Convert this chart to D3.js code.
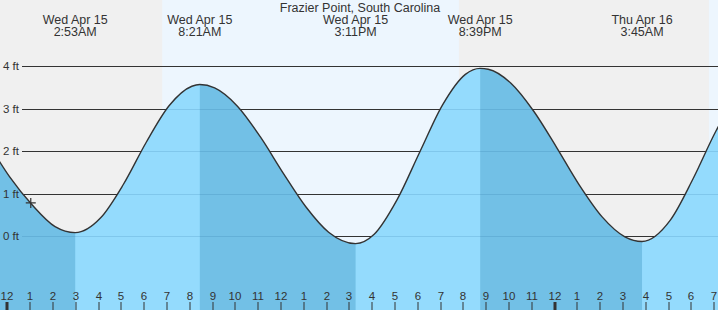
<!DOCTYPE html>
<html>
<head>
<meta charset="utf-8">
<script src="https://cdn.jsdelivr.net/npm/d3@7"></script>
<style>
  html, body { margin: 0; padding: 0; background: #fff; }
  svg { display: block; font-family: "Liberation Sans", Arial, sans-serif; }
</style>
</head>
<body>
<svg id="chart" width="718" height="310"></svg>
<script>
// station
var stationName = "Frazier Point, South Carolina";

// window shown
var viewStart = "2026-04-14 23:35";
var viewEnd = "2026-04-16 07:05";

// hourly heights (ft), starting at viewHourlyStart
var hourlyStart = "2026-04-14 23:00";
var hourlyFeet = [2.25, 1.40, 0.73, 0.22, 0.08, 0.43, 1.22, 2.21, 3.07, 3.53,
                  3.49, 3.06, 2.34, 1.49, 0.69, 0.09, -0.17, 0.04, 0.85, 1.98,
                  3.09, 3.81, 3.93, 3.60, 2.94, 2.09, 1.20, 0.45, -0.02, -0.11,
                  0.38, 1.36, 2.48, 3.37];

// high / low tides
var extremeTimes = ["2026-04-15 02:53", "2026-04-15 08:21", "2026-04-15 15:11",
                    "2026-04-15 20:39", "2026-04-16 03:45"];
var extremeFeet = [0.08, 3.57, -0.18, 3.95, -0.13];
var extremeType = ["low", "high", "low", "high", "low"];

// daylight
var sunrises = ["2026-04-15 06:42", "2026-04-16 06:41"];
var sunsets = ["2026-04-15 19:43"];

// current time marker
var nowTime = "2026-04-15 00:56";
var nowFeet = 0.78;

var yTicks = [0, 1, 2, 3, 4];

var parse = d3.timeParse("%Y-%m-%d %H:%M");
var width = 718, height = 310;

var x = d3.scaleTime()
    .domain([parse(viewStart), parse(viewEnd)])
    .range([0, width]);
var y = d3.scaleLinear()
    .domain([0, 4])
    .range([236, 66.3]);

var svg = d3.select("#chart");

var colors = {
    night: "#f0f0f0",
    day: "#edf6fe",
    waterLight: "#94dbfd",
    waterDark: "#72c0e6",
    ink: "#333"
};

// tide points: hourly plus extremes, sorted
var hStart = parse(hourlyStart);
var points = hourlyFeet.map(function(v, i) {
    return {t: d3.timeHour.offset(hStart, i), v: v};
});
extremeTimes.forEach(function(s, i) {
    points.push({t: parse(s), v: extremeFeet[i]});
});
points.sort(function(a, b) { return a.t - b.t; });
// drop hourly points that sit too close to an extreme
var exT = extremeTimes.map(function(s) { return +parse(s); });
points = points.filter(function(p) {
    var isEx = exT.indexOf(+p.t) !== -1;
    if (isEx) return true;
    return !exT.some(function(e) { return Math.abs(e - p.t) < 20 * 60000; });
});

// background: night / day
svg.append("rect")
    .attr("width", width).attr("height", height)
    .attr("fill", colors.night);
var dayStart = [parse(viewStart)].concat([]);
var rises = sunrises.map(parse), sets = sunsets.map(parse);
var dayBands = [];
for (var i = 0; i < rises.length; i++) {
    dayBands.push([rises[i], sets[i] ? sets[i] : parse(viewEnd)]);
}
svg.selectAll("rect.day").data(dayBands).enter().append("rect")
    .attr("class", "day")
    .attr("x", function(d) { return x(d[0]); })
    .attr("y", 0)
    .attr("width", function(d) { return x(d[1]) - x(d[0]); })
    .attr("height", height)
    .attr("fill", colors.day);

// grid lines (dark, under the water)
var grid = svg.append("g");
grid.selectAll("line").data(yTicks).enter().append("line")
    .attr("x1", 22).attr("x2", width)
    .attr("y1", function(d) { return Math.round(y(d)) + 0.5; })
    .attr("y2", function(d) { return Math.round(y(d)) + 0.5; })
    .attr("stroke", colors.ink)
    .attr("stroke-width", 1);

// water
var area = d3.area()
    .x(function(d) { return x(d.t); })
    .y0(height)
    .y1(function(d) { return y(d.v); })
    .curve(d3.curveMonotoneX);
var line = d3.line()
    .x(function(d) { return x(d.t); })
    .y(function(d) { return y(d.v); })
    .curve(d3.curveMonotoneX);

svg.append("clipPath").attr("id", "water")
    .append("path").attr("d", area(points));

var water = svg.append("g").attr("clip-path", "url(#water)");
water.append("rect")
    .attr("width", width).attr("height", height)
    .attr("fill", colors.waterLight);

// falling tide = darker band (high -> next low)
var falling = [];
var prev = parse(viewStart);
extremeTimes.forEach(function(s, i) {
    if (extremeType[i] === "low") falling.push([prev, parse(s)]);
    else prev = parse(s);
});
water.selectAll("rect.fall").data(falling).enter().append("rect")
    .attr("class", "fall")
    .attr("x", function(d) { return x(d[0]); })
    .attr("y", 0)
    .attr("width", function(d) { return x(d[1]) - x(d[0]); })
    .attr("height", height)
    .attr("fill", colors.waterDark);

// faint grid lines in the water
water.selectAll("line").data(yTicks).enter().append("line")
    .attr("x1", 22).attr("x2", width)
    .attr("y1", function(d) { return Math.round(y(d)) + 0.5; })
    .attr("y2", function(d) { return Math.round(y(d)) + 0.5; })
    .attr("stroke", "rgba(0,70,120,0.13)");

// tide curve
svg.append("path")
    .attr("d", line(points))
    .attr("fill", "none")
    .attr("stroke", colors.ink)
    .attr("stroke-width", 1.4);

// y labels
svg.append("g").selectAll("text").data(yTicks).enter().append("text")
    .attr("x", 3)
    .attr("y", function(d) { return y(d) + 4; })
    .attr("font-size", 11.5)
    .attr("fill", colors.ink)
    .text(function(d) { return d + " ft"; });

// title
svg.append("text")
    .attr("x", 360).attr("y", 12)
    .attr("text-anchor", "middle")
    .attr("font-size", 12.5)
    .attr("fill", colors.ink)
    .text(stationName);

// extreme labels
var fmtDay = d3.timeFormat("%a %b %-d");
var fmtTime = d3.timeFormat("%-I:%M%p");
var lab = svg.append("g").selectAll("g").data(extremeTimes).enter().append("g")
    .attr("transform", function(d) { return "translate(" + x(parse(d)) + ",0)"; });
lab.append("text")
    .attr("y", 24.3)
    .attr("text-anchor", "middle")
    .attr("font-size", 12.5)
    .attr("fill", colors.ink)
    .text(function(d) { return fmtDay(parse(d)); });
lab.append("text")
    .attr("y", 36)
    .attr("text-anchor", "middle")
    .attr("font-size", 12.5)
    .attr("fill", colors.ink)
    .text(function(d) { return fmtTime(parse(d)); });

// hour axis
var hours = d3.timeHour.range(parse("2026-04-15 00:00"), parse(viewEnd));
var axis = svg.append("g").attr("transform", "translate(-2.5,0)");
var tk = axis.selectAll("g").data(hours).enter().append("g")
    .attr("transform", function(d) { return "translate(" + Math.round(x(d)) + ",0)"; });
tk.append("line")
    .attr("x1", 0.5).attr("x2", 0.5)
    .attr("y1", 302).attr("y2", height)
    .attr("stroke", colors.ink)
    .attr("stroke-width", function(d) { return d.getHours() === 0 ? 3 : 1; });
tk.append("text")
    .attr("x", 0.5).attr("y", 300)
    .attr("text-anchor", "middle")
    .attr("font-size", 11.5)
    .attr("fill", colors.ink)
    .text(function(d) { return d.getHours() % 12 || 12; });

// now marker
var nx = x(parse(nowTime)), ny = y(nowFeet);
svg.append("path")
    .attr("d", "M" + (nx - 5) + "," + ny + "H" + (nx + 5) + "M" + nx + "," + (ny - 5) + "V" + (ny + 5))
    .attr("stroke", colors.ink)
    .attr("stroke-width", 1.2);
</script>
</body>
</html>
